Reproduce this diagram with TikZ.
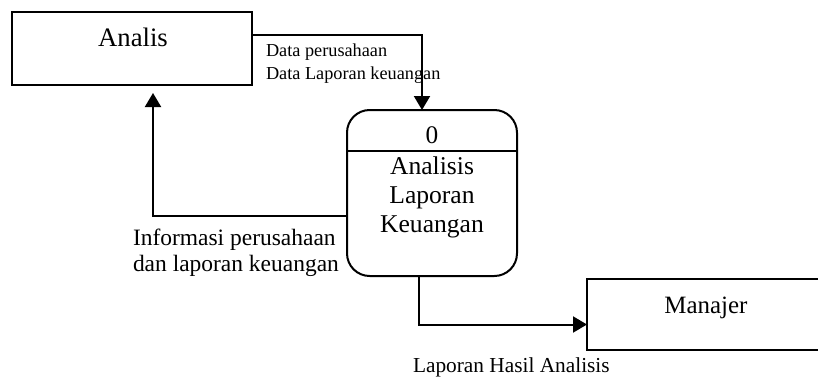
\documentclass[tikz,border=0pt]{standalone}
\usepackage{fontspec}
\setmainfont{Liberation Serif}
\usetikzlibrary{calc,arrows.meta}

\tikzset{
  entbox/.style={draw, line width=1.5pt, inner sep=0pt, outer sep=0pt},
  procbox/.style={draw, line width=1.5pt, rounded corners=17pt, inner sep=0pt, outer sep=0pt},
  flow/.style={line width=1.5pt, -{Triangle[length=10.5pt,width=12pt]}},
  lbl/.style={inner sep=0pt, outer sep=0pt}
}

\begin{document}
\begin{tikzpicture}[x=0.75pt, y=-0.75pt]
			%%%%% START %%%%%
			\useasboundingbox (0, 0) rectangle (818, 386);
			
			% external entities
			\node[entbox, minimum width=180pt, minimum height=54.75pt] (analis) at (132, 48.5) {};
			\node[lbl, anchor=base, font=\fontsize{20}{24}\selectfont] (analistxt) at (133, 46) {Analis};
			
			\node[entbox, minimum width=182.25pt, minimum height=53.25pt] (manajer) at (708.5, 314.5) {};
			\node[lbl, anchor=base, font=\fontsize{18.7}{22}\selectfont] (manajertxt) at (706, 313) {Manajer};
			
			% process
			\node[procbox, minimum width=127.5pt, minimum height=124.5pt] (proc) at (432, 193) {};
			\draw[line width=1.5pt] ($(proc.north west)!0.247!(proc.south west)$) -- ($(proc.north east)!0.247!(proc.south east)$);
			\node[lbl, anchor=base, font=\fontsize{19}{21}\selectfont] (procid) at (432, 143) {0};
			\node[lbl, anchor=base, align=center, font=\fontsize{19.2}{21.4}\selectfont] (proctitle) at (432, 232)
				{Analisis\\Laporan\\Keuangan};
			
			% flows
			\draw[flow] ($(analis.north east)!0.315!(analis.south east)$) -| ($(proc.north)+(-10, 0)$);
			\draw[flow] ($(proc.north west)!0.64!(proc.south west)$) -| ($(analis.south west)+(141, 8)$);
			\draw[flow] ($(proc.south)+(-13, 0)$) |- ($(manajer.west)+(0, 10)$);
			
			% flow labels
			\node[lbl, anchor=base west, align=left, font=\fontsize{13.7}{17.2}\selectfont] (datatxt) at (266, 79)
				{Data perusahaan\\Data Laporan keuangan};
			\node[lbl, anchor=base west, align=left, font=\fontsize{17.6}{19.5}\selectfont] (infotxt) at (133, 271)
				{Informasi perusahaan\\dan laporan keuangan};
			\node[lbl, anchor=base west, font=\fontsize{16}{19}\selectfont] (hasiltxt) at (413, 372) {Laporan Hasil Analisis};
			
			%%%%% END %%%%%
\end{tikzpicture}
\end{document}
